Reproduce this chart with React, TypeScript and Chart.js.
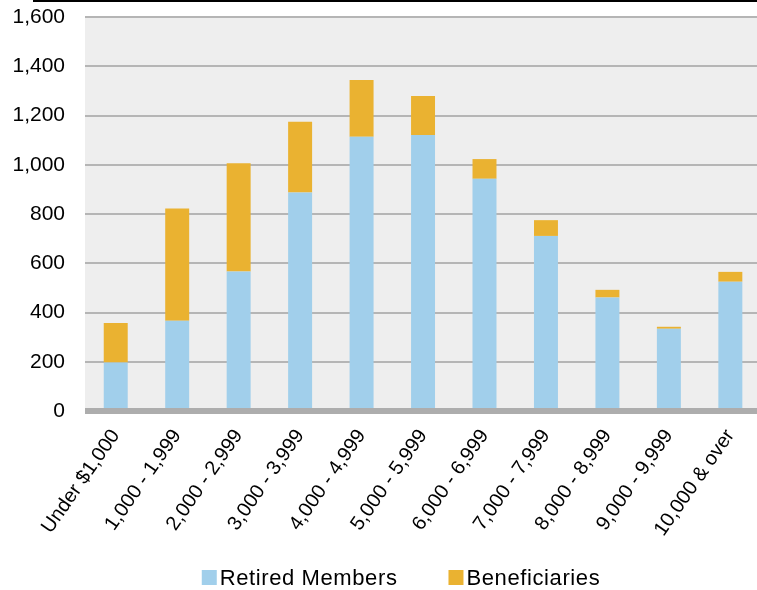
import React, { useEffect, useRef } from "react";
import { Chart, registerables } from "chart.js";

Chart.register(...registerables);

const categories = [
  "Under $1,000",
  "1,000 - 1,999",
  "2,000 - 2,999",
  "3,000 - 3,999",
  "4,000 - 4,999",
  "5,000 - 5,999",
  "6,000 - 6,999",
  "7,000 - 7,999",
  "8,000 - 8,999",
  "9,000 - 9,999",
  "10,000 & over",
];

const retiredMembers = [197, 366, 566, 887, 1114, 1121, 943, 711, 461, 334, 525];
const beneficiaries = [160, 456, 440, 288, 230, 158, 80, 64, 31, 8, 40];

const seriesNames = ["Retired Members", "Beneficiaries"];
const seriesColors = ["#A1CFEB", "#EAB231"];

const yMin = 0;
const yMax = 1600;
const yStep = 200;

const FONT = '"Liberation Sans", Arial, sans-serif';
const CANVAS_W = 764;
const CANVAS_H = 590;

// Grey plot background, top rule and the heavy zero baseline.
const decorPlugin = {
  id: "decor",
  beforeDraw(chart: any) {
    const { ctx, chartArea } = chart;
    ctx.save();
    ctx.fillStyle = "#EEEEEE";
    ctx.fillRect(chartArea.left, chartArea.top, chartArea.right - chartArea.left, chartArea.bottom - chartArea.top);
    ctx.fillStyle = "#000000";
    ctx.fillRect(33, 0, chart.width - 33, 2);
    ctx.restore();
  },
  afterDatasetsDraw(chart: any) {
    const { ctx, chartArea, scales } = chart;
    const y0 = scales.y.getPixelForValue(0);
    ctx.save();
    ctx.strokeStyle = "#ADADAD";
    ctx.lineWidth = 6;
    ctx.beginPath();
    ctx.moveTo(chartArea.left, y0);
    ctx.lineTo(chartArea.right, y0);
    ctx.stroke();
    ctx.restore();
  },
};

// Bottom legend: square swatch followed closely by the series name.
const legendPlugin = {
  id: "bottomLegend",
  afterDraw(chart: any) {
    const { ctx } = chart;
    const box = 15;
    const gap = 3;
    const itemGap = 51;
    const cy = 577.5;
    const centerX = 401;
    ctx.save();
    ctx.font = `22px ${FONT}`;
    (ctx as any).letterSpacing = "0.6px";
    ctx.textBaseline = "middle";
    ctx.textAlign = "left";
    const items = chart.data.datasets.map((d: any) => ({
      label: d.label as string,
      color: d.backgroundColor as string,
      w: ctx.measureText(d.label).width,
    }));
    const total = items.reduce((s: number, it: any) => s + box + gap + it.w, 0) + itemGap * (items.length - 1);
    let x = centerX - total / 2;
    for (const it of items) {
      ctx.fillStyle = it.color;
      ctx.fillRect(x, cy - box / 2, box, box);
      ctx.fillStyle = "#000000";
      ctx.fillText(it.label, x + box + gap, cy + 1);
      x += box + gap + it.w + itemGap;
    }
    ctx.restore();
  },
};

export default function App() {
  const canvasRef = useRef<HTMLCanvasElement | null>(null);

  useEffect(() => {
    if (!canvasRef.current) return;
    const chart = new Chart(canvasRef.current, {
      type: "bar",
      data: {
        labels: categories,
        datasets: [
          {
            label: seriesNames[0],
            data: retiredMembers,
            backgroundColor: seriesColors[0],
            borderWidth: 0,
            categoryPercentage: 1,
            barPercentage: 0.39,
          },
          {
            label: seriesNames[1],
            data: beneficiaries,
            backgroundColor: seriesColors[1],
            borderWidth: 0,
            categoryPercentage: 1,
            barPercentage: 0.39,
          },
        ],
      },
      options: {
        responsive: false,
        animation: false,
        devicePixelRatio: 1,
        layout: { padding: { top: 17, left: 0, right: 0, bottom: 0 } },
        plugins: {
          legend: { display: false },
          tooltip: { enabled: false },
        },
        scales: {
          x: {
            stacked: true,
            grid: { display: false, drawTicks: false },
            border: { display: false },
            ticks: {
              autoSkip: false,
              maxRotation: 55,
              minRotation: 55,
              padding: 14,
              color: "#000000",
              font: { family: FONT, size: 20 },
            },
            afterFit(scale: any) {
              scale.height = CANVAS_H - 411;
            },
          },
          y: {
            stacked: true,
            min: yMin,
            max: yMax,
            grid: {
              drawTicks: true,
              tickLength: 20,
              tickColor: "rgba(0,0,0,0)",
              lineWidth: 2,
              color: (c: any) => (c.tick && c.tick.value === 0 ? "rgba(0,0,0,0)" : "#B5B5B5"),
            },
            border: { display: false },
            ticks: {
              stepSize: yStep,
              padding: 0,
              color: "#000000",
              font: { family: FONT, size: 21 },
            },
            afterFit(scale: any) {
              scale.width = 85;
            },
          },
        },
      },
      plugins: [decorPlugin, legendPlugin],
    });
    return () => chart.destroy();
  }, []);

  return (
    <div
      style={{
        position: "fixed",
        left: 0,
        top: 0,
        width: 757,
        height: CANVAS_H,
        overflow: "hidden",
        background: "#FFFFFF",
      }}
    >
      <canvas
        ref={canvasRef}
        width={CANVAS_W}
        height={CANVAS_H}
        style={{ width: CANVAS_W, height: CANVAS_H, display: "block" }}
      />
    </div>
  );
}
